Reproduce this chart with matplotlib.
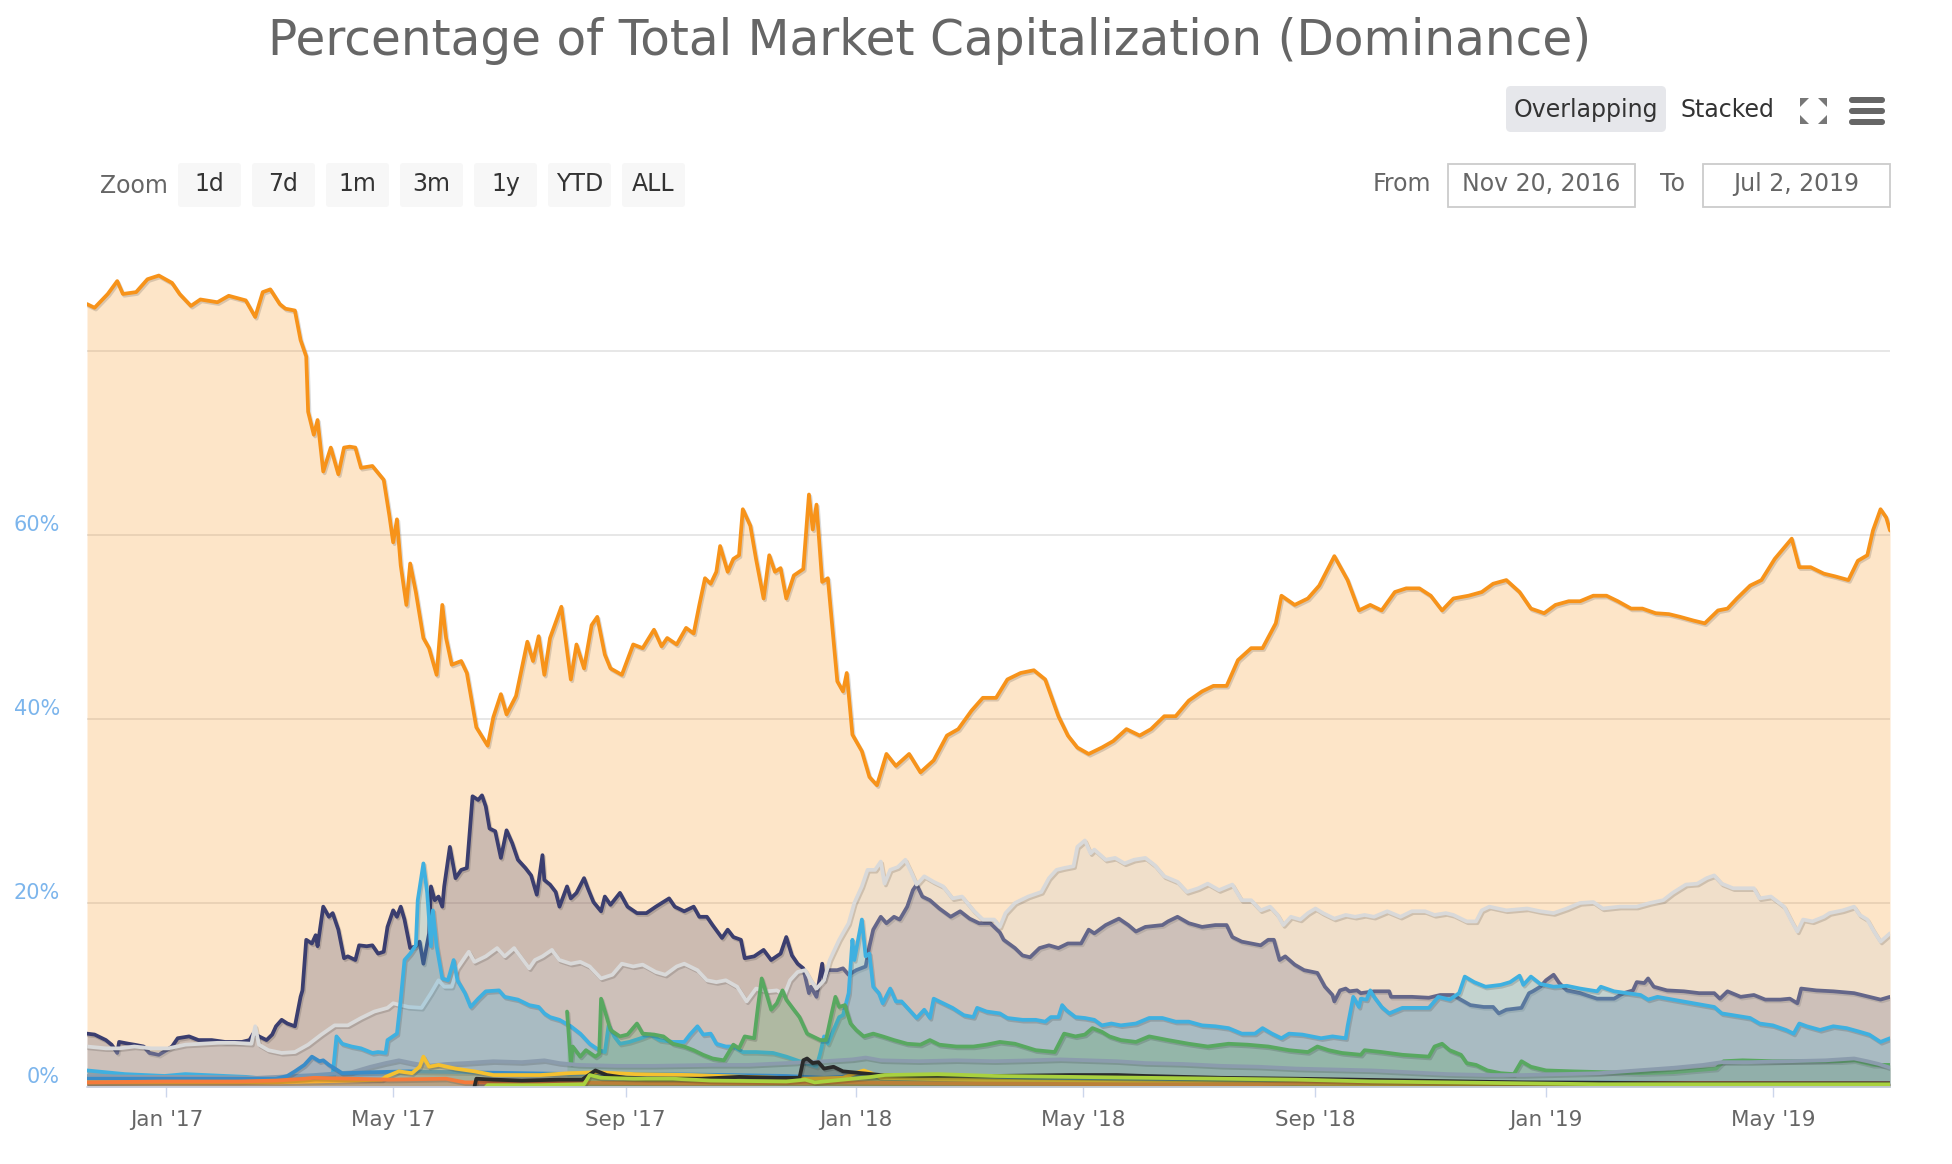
import numpy as np
import pandas as pd
import matplotlib
matplotlib.use('Agg')
import matplotlib.pyplot as plt
import matplotlib.dates as mdates
import matplotlib.patheffects as pe
import matplotlib.transforms as mtransforms
from matplotlib.patches import FancyBboxPatch, Rectangle, Polygon

START = '2016-11-20'
END = '2019-07-02'

title = "Percentage of Total Market Capitalization (Dominance)"
zoom_buttons = ['1d', '7d', '1m', '3m', '1y', 'YTD', 'ALL']
from_label = 'Nov 20, 2016'
to_label = 'Jul 2, 2019'
y_ticks = [0, 20, 40, 60, 80]
y_labels = ['0%', '20%', '40%', '60%', '']
x_tick_dates = ['2017-01-01', '2017-05-01', '2017-09-01', '2018-01-01',
                '2018-05-01', '2018-09-01', '2019-01-01', '2019-05-01']
x_tick_labels = ["Jan '17", "May '17", "Sep '17", "Jan '18",
                 "May '18", "Sep '18", "Jan '19", "May '19"]

# ---- series (day offset from START, dominance %) ----
btc_day = [0, 4, 11, 16, 19, 26, 32, 38, 45, 49, 55, 60, 69, 75, 84, 89, 93, 97, 102, 105, 110, 113, 116, 117,
           120, 122, 125, 129, 133, 136, 139, 142, 145, 151, 157, 160, 162, 164, 166, 169, 171, 174, 178, 181,
           185, 188, 190, 193, 198, 201, 206, 212, 215, 219, 222, 227, 233, 236, 239, 242, 245, 251, 256, 259,
           263, 267, 270, 274, 277, 283, 289, 294, 300, 304, 307, 312, 317, 321, 324, 327, 330, 333, 335, 339,
           342, 345, 347, 351, 354, 358, 361, 364, 367, 370, 374, 379, 382, 384, 386, 389, 392, 397, 400, 402,
           405, 410, 414, 418, 423, 428, 435, 441, 448, 455, 461, 468, 474, 481, 487, 494, 501, 507, 514, 519,
           524, 530, 537, 543, 550, 557, 563, 570, 576, 583, 590, 596, 603, 609, 616, 622, 629, 632, 639, 646,
           652, 660, 667, 673, 679, 685, 692, 698, 705, 711, 717, 723, 731, 738, 744, 751, 758, 764, 771, 777,
           784, 790, 797, 804, 810, 817, 823, 830, 837, 843, 850, 856, 863, 868, 873, 880, 886, 893, 902, 906,
           912, 919, 925, 932, 937, 942, 945, 949, 952, 954]
btc_pct = [85.1, 84.7, 86.2, 87.6, 86.2, 86.4, 87.8, 88.2, 87.4, 86.2, 84.9, 85.6, 85.3, 86.0, 85.5, 83.7, 86.4,
           86.7, 85.1, 84.6, 84.4, 81.2, 79.4, 73.4, 70.9, 72.5, 66.9, 69.5, 66.6, 69.5, 69.6, 69.5, 67.3, 67.5,
           66.0, 62.1, 59.2, 61.7, 56.7, 52.4, 56.9, 53.8, 48.8, 47.7, 44.8, 52.4, 48.8, 45.9, 46.3, 45.0, 39.1,
           37.1, 40.2, 42.7, 40.5, 42.5, 48.4, 46.3, 49.0, 44.8, 48.8, 52.2, 44.3, 48.1, 45.5, 50.2, 51.1, 47.0,
           45.5, 44.8, 48.1, 47.7, 49.7, 47.9, 48.8, 48.1, 49.9, 49.3, 52.4, 55.3, 54.7, 56.0, 58.8, 56.0, 57.4,
           57.8, 62.8, 61.0, 57.4, 53.1, 57.8, 56.0, 56.4, 53.1, 55.6, 56.3, 64.4, 60.6, 63.3, 54.9, 55.3, 44.1,
           43.0, 45.0, 38.3, 36.5, 33.7, 32.8, 36.2, 34.9, 36.2, 34.2, 35.5, 38.2, 38.9, 40.9, 42.3, 42.3, 44.3,
           45.0, 45.3, 44.3, 40.3, 38.2, 36.9, 36.2, 36.9, 37.6, 38.9, 38.2, 38.9, 40.3, 40.3, 42.0, 43.0, 43.6,
           43.6, 46.4, 47.7, 47.7, 50.4, 53.4, 52.4, 53.1, 54.5, 57.7, 55.1, 51.8, 52.4, 51.8, 53.8, 54.2, 54.2,
           53.4, 51.8, 53.1, 53.4, 53.8, 54.7, 55.1, 53.8, 52.0, 51.5, 52.4, 52.8, 52.8, 53.4, 53.4, 52.8, 52.0,
           52.0, 51.5, 51.4, 51.1, 50.7, 50.4, 51.8, 52.0, 53.1, 54.5, 55.1, 57.4, 59.6, 56.5, 56.5, 55.8, 55.5,
           55.1, 57.2, 57.8, 60.5, 62.8, 61.9, 60.5]

eth_day = [0, 4, 10, 13, 16, 17, 22, 25, 30, 33, 38, 42, 45, 48, 54, 59, 66, 73, 82, 86, 88, 91, 95, 98, 100,
           103, 106, 110, 113, 114, 116, 119, 121, 122, 125, 128, 130, 133, 136, 138, 142, 144, 148, 151, 154,
           157, 159, 162, 164, 166, 168, 171, 174, 176, 178, 181, 182, 184, 186, 188, 189, 192, 195, 198, 201,
           204, 207, 209, 211, 213, 216, 219, 222, 225, 228, 232, 235, 238, 241, 242, 245, 248, 250, 254, 256,
           259, 263, 265, 268, 272, 274, 277, 282, 286, 291, 296, 301, 308, 311, 316, 321, 324, 328, 331, 336,
           339, 342, 346, 348, 353, 358, 362, 367, 370, 373, 376, 379, 382, 383, 386, 389, 390, 392, 397, 400,
           403, 407, 412, 414, 416, 420, 423, 427, 430, 434, 437, 439, 442, 446, 451, 457, 462, 467, 472, 478,
           483, 485, 491, 495, 499, 504, 509, 514, 519, 526, 530, 533, 539, 546, 551, 555, 560, 569, 572, 577,
           583, 590, 597, 603, 606, 611, 616, 621, 625, 628, 631, 634, 639, 644, 651, 655, 659, 660, 663, 666,
           668, 672, 674, 681, 689, 690, 701, 710, 716, 723, 726, 732, 739, 744, 747, 751, 759, 763, 765, 769,
           772, 776, 779, 783, 790, 799, 808, 813, 818, 820, 824, 826, 829, 836, 845, 853, 861, 864, 868, 875,
           882, 888, 896, 901, 905, 907, 915, 924, 935, 943, 949, 954]
eth_pct = [5.8, 5.7, 5.1, 4.6, 3.7, 4.9, 4.7, 4.6, 4.4, 3.7, 3.5, 4.0, 4.4, 5.3, 5.5, 5.1, 5.1, 4.9, 4.9, 5.1,
           5.8, 5.5, 5.1, 5.7, 6.6, 7.3, 6.9, 6.6, 9.8, 10.5, 16.0, 15.6, 16.5, 15.3, 19.6, 18.5, 18.9, 17.1,
           14.0, 14.2, 13.8, 15.4, 15.3, 15.4, 14.5, 14.7, 17.4, 19.2, 18.5, 19.6, 18.2, 15.1, 15.3, 15.8, 13.4,
           16.7, 21.8, 20.3, 20.7, 19.6, 21.8, 26.1, 22.7, 23.6, 23.8, 31.6, 31.2, 31.7, 30.5, 28.1, 27.8, 24.9,
           27.9, 26.5, 24.7, 23.8, 23.0, 20.9, 25.2, 22.5, 22.0, 21.2, 19.6, 21.8, 20.5, 21.1, 22.7, 21.6, 20.1,
           19.1, 20.7, 19.8, 21.1, 19.6, 18.9, 18.9, 19.6, 20.5, 19.6, 19.1, 19.6, 18.5, 18.5, 17.6, 16.2, 17.1,
           16.3, 16.0, 14.0, 14.2, 14.9, 13.8, 14.5, 16.3, 14.3, 13.4, 12.9, 10.2, 10.9, 9.8, 13.4, 11.6, 12.7,
           12.7, 12.9, 12.2, 12.7, 13.1, 15.3, 17.1, 18.5, 17.8, 18.5, 18.2, 19.6, 21.4, 22.0, 20.7, 20.3, 19.4,
           18.5, 19.1, 18.3, 17.8, 17.8, 16.8, 16.0, 15.1, 14.3, 14.1, 15.1, 15.4, 15.1, 15.6, 15.6, 17.1, 16.7,
           17.6, 18.3, 17.6, 16.9, 17.4, 17.6, 18.0, 18.5, 17.8, 17.4, 17.6, 17.6, 16.3, 15.8, 15.6, 15.4, 16.0,
           16.0, 13.8, 14.2, 13.3, 12.7, 12.4, 10.9, 10.0, 9.3, 10.5, 10.7, 10.4, 10.5, 10.2, 10.4, 10.4, 9.8,
           9.8, 9.7, 10.0, 10.0, 9.6, 8.9, 8.7, 8.7, 8.0, 8.4, 8.6, 10.2, 10.4, 10.9, 11.6, 12.2, 11.3, 10.5,
           10.2, 9.6, 9.6, 10.2, 10.5, 11.4, 11.3, 11.8, 10.9, 10.5, 10.4, 10.2, 10.2, 9.6, 10.4, 9.8, 10.0, 9.5,
           9.5, 9.6, 9.1, 10.7, 10.5, 10.4, 10.2, 9.8, 9.5, 9.8]

oth_day = [0, 10, 17, 25, 34, 43, 52, 61, 69, 78, 87, 89, 91, 96, 103, 110, 117, 124, 131, 138, 145, 152, 159,
           162, 170, 177, 182, 186, 189, 193, 196, 202, 205, 211, 217, 221, 226, 230, 234, 237, 241, 246, 250,
           256, 261, 266, 272, 278, 283, 289, 294, 301, 306, 312, 316, 323, 328, 333, 338, 344, 349, 354, 360,
           365, 369, 372, 376, 380, 383, 386, 390, 393, 398, 403, 406, 410, 413, 417, 420, 422, 425, 429, 433,
           436, 439, 443, 448, 453, 458, 463, 469, 474, 480, 483, 486, 491, 498, 505, 509, 513, 517, 522, 524,
           528, 531, 533, 539, 544, 549, 554, 560, 565, 570, 577, 582, 588, 593, 599, 606, 611, 616, 621, 626,
           630, 633, 637, 642, 646, 650, 654, 660, 666, 671, 676, 681, 688, 695, 701, 708, 713, 719, 723, 730,
           735, 738, 742, 751, 762, 769, 776, 783, 790, 797, 802, 811, 820, 827, 834, 839, 846, 852, 857, 861,
           865, 871, 876, 882, 885, 891, 898, 902, 905, 908, 913, 919, 922, 929, 935, 938, 942, 945, 949, 954]
oth_pct = [4.4, 4.2, 4.2, 4.4, 4.2, 4.2, 4.6, 4.7, 4.8, 4.8, 4.7, 6.6, 4.6, 4.0, 3.7, 3.8, 4.6, 5.7, 6.7, 6.7,
           7.5, 8.2, 8.6, 9.1, 8.7, 8.6, 10.2, 11.6, 10.9, 10.9, 12.9, 14.7, 13.6, 14.2, 15.1, 14.2, 15.1, 14.0,
           12.9, 13.8, 14.2, 14.9, 13.8, 13.4, 13.6, 13.1, 11.8, 12.2, 13.4, 13.1, 13.3, 12.5, 12.2, 13.1, 13.4,
           12.7, 11.6, 11.4, 11.6, 10.9, 9.3, 10.7, 10.4, 10.5, 10.0, 11.6, 12.5, 12.7, 11.6, 10.7, 11.6, 13.8,
           16.0, 17.8, 20.0, 21.8, 23.6, 23.6, 24.5, 22.1, 23.6, 23.9, 24.7, 23.4, 22.0, 22.9, 22.3, 21.8, 20.5,
           20.7, 19.2, 18.2, 18.2, 17.4, 18.9, 20.0, 20.7, 21.2, 22.7, 23.6, 23.8, 24.0, 26.1, 26.8, 25.4, 25.8,
           24.7, 24.9, 24.3, 24.7, 24.9, 24.1, 22.9, 22.3, 21.2, 21.6, 22.1, 21.4, 22.0, 20.3, 20.3, 19.2, 19.6,
           18.7, 17.6, 18.5, 18.2, 18.9, 19.4, 18.9, 18.3, 18.7, 18.5, 18.7, 18.5, 19.1, 18.5, 19.1, 19.1, 18.7,
           18.9, 18.7, 18.0, 18.0, 19.2, 19.6, 19.2, 19.4, 19.1, 18.9, 19.4, 20.0, 20.1, 19.4, 19.6, 19.6, 20.0,
           20.3, 21.1, 22.0, 22.1, 22.7, 23.0, 22.1, 21.6, 21.6, 21.6, 20.5, 20.7, 19.6, 18.0, 16.9, 18.2, 18.0,
           18.5, 18.9, 19.2, 19.6, 18.7, 18.2, 17.1, 15.8, 16.7]

xrp_day = [0, 10, 20, 31, 41, 52, 62, 73, 84, 94, 105, 115, 125, 130, 132, 135, 140, 145, 151, 154, 158, 159,
           164, 166, 168, 171, 174, 175, 178, 180, 182, 183, 185, 188, 191, 194, 196, 200, 203, 207, 211, 218,
           221, 228, 234, 239, 242, 245, 250, 256, 261, 266, 271, 274, 276, 279, 282, 287, 293, 298, 303, 310,
           316, 319, 323, 326, 330, 333, 338, 342, 347, 354, 363, 370, 377, 383, 386, 388, 390, 392, 395, 398,
           400, 403, 405, 406, 408, 410, 412, 414, 416, 419, 421, 425, 428, 431, 435, 439, 443, 446, 448, 453,
           458, 464, 469, 471, 476, 483, 487, 495, 502, 507, 510, 514, 516, 518, 523, 528, 533, 537, 542, 547,
           555, 562, 569, 576, 583, 590, 597, 604, 611, 618, 622, 627, 632, 636, 643, 648, 653, 659, 666, 667,
           670, 673, 674, 677, 679, 681, 685, 689, 696, 703, 710, 715, 721, 726, 729, 734, 740, 748, 753, 758,
           760, 764, 769, 776, 783, 790, 799, 801, 808, 815, 822, 826, 831, 839, 850, 861, 865, 871, 880, 885,
           892, 899, 903, 906, 910, 917, 924, 931, 938, 943, 949, 954]
xrp_pct = [1.8, 1.6, 1.4, 1.3, 1.2, 1.4, 1.3, 1.2, 1.1, 0.9, 0.9, 1.0, 1.1, 1.3, 5.5, 4.7, 4.4, 4.2, 3.7, 3.8,
           3.7, 5.1, 5.8, 9.5, 13.8, 14.5, 15.4, 20.3, 24.3, 21.1, 15.3, 19.2, 15.3, 11.8, 11.6, 13.8, 11.6, 10.2,
           8.7, 9.6, 10.4, 10.5, 9.8, 9.5, 8.9, 8.7, 8.0, 7.6, 7.3, 6.6, 5.8, 4.7, 4.0, 3.8, 6.7, 5.5, 4.7, 4.9,
           5.3, 5.7, 5.1, 4.9, 4.9, 5.7, 6.6, 5.7, 5.8, 4.7, 4.4, 4.4, 3.8, 3.8, 3.7, 3.3, 2.8, 2.4, 2.2, 3.7,
           5.5, 4.7, 6.2, 7.6, 7.8, 10.2, 16.0, 13.8, 16.0, 18.2, 14.2, 14.5, 10.9, 10.2, 9.1, 10.7, 9.3, 9.3,
           8.4, 7.5, 8.4, 7.5, 9.6, 9.1, 8.6, 7.8, 7.6, 8.6, 8.2, 8.0, 7.5, 7.3, 7.3, 7.1, 7.6, 7.6, 8.9, 8.4,
           7.6, 7.5, 7.3, 6.7, 6.9, 6.7, 6.9, 7.5, 7.5, 7.1, 7.1, 6.7, 6.6, 6.4, 5.8, 5.8, 6.4, 5.8, 5.3, 5.8,
           5.7, 5.5, 5.3, 5.5, 5.3, 6.6, 9.8, 8.7, 9.6, 9.5, 10.5, 9.8, 8.7, 8.0, 8.6, 8.6, 8.6, 9.8, 9.5, 10.2,
           12.0, 11.4, 10.9, 11.1, 11.4, 12.1, 11.1, 12.0, 11.2, 10.9, 11.0, 10.7, 10.4, 10.9, 10.4, 10.2, 10.0,
           9.5, 9.8, 9.5, 9.1, 8.7, 8.0, 7.8, 7.5, 6.9, 6.7, 6.2, 5.8, 6.9, 6.6, 6.2, 6.6, 6.4, 6.0, 5.7, 4.9, 5.3]

bch_day = [254, 256, 257, 261, 264, 269, 271, 272, 275, 277, 282, 286, 291, 294, 300, 305, 310, 316, 321, 326,
           331, 337, 342, 345, 348, 353, 355, 357, 360, 362, 365, 368, 370, 374, 377, 381, 384, 388, 391, 394,
           396, 398, 401, 404, 407, 411, 416, 421, 427, 434, 441, 446, 451, 460, 469, 476, 483, 491, 502, 512,
           517, 523, 528, 532, 537, 541, 547, 555, 562, 572, 583, 593, 604, 614, 625, 636, 646, 651, 657, 664,
           674, 676, 685, 696, 710, 713, 717, 721, 727, 730, 735, 741, 748, 755, 759, 764, 772, 786, 804, 822,
           839, 850, 862, 866, 876, 892, 910, 928, 935, 945, 954]
bch_pct = [8.2, 2.6, 4.4, 3.3, 4.0, 3.3, 3.6, 9.6, 7.6, 6.2, 5.5, 5.7, 6.9, 5.8, 5.7, 5.5, 4.7, 4.4, 4.0, 3.5,
           3.1, 2.9, 4.6, 4.2, 5.5, 5.3, 8.7, 11.8, 9.8, 8.4, 9.1, 10.5, 9.5, 8.4, 7.6, 5.8, 5.5, 5.1, 5.1, 8.0,
           9.8, 8.7, 8.9, 6.9, 6.2, 5.5, 5.8, 5.5, 5.1, 4.7, 4.6, 5.1, 4.6, 4.4, 4.4, 4.6, 4.9, 4.7, 4.0, 3.8,
           5.8, 5.5, 5.7, 6.4, 6.0, 5.5, 5.1, 4.9, 5.5, 5.1, 4.7, 4.4, 4.7, 4.6, 4.4, 4.0, 3.8, 4.4, 4.0, 3.7,
           3.5, 4.0, 3.8, 3.5, 3.3, 4.4, 4.7, 4.0, 3.5, 2.6, 2.4, 1.8, 1.5, 1.4, 2.8, 2.2, 1.8, 1.7, 1.6, 1.5,
           1.6, 1.8, 2.0, 2.8, 2.9, 2.8, 2.8, 2.8, 2.9, 2.4, 2.4]

ltc_day = [0, 30, 60, 90, 120, 140, 150, 158, 165, 172, 180, 190, 200, 215, 230, 242, 250, 260, 280, 300, 330,
           350, 370, 390, 405, 412, 420, 440, 460, 480, 500, 515, 530, 545, 560, 580, 600, 620, 640, 660, 680,
           700, 720, 740, 760, 780, 800, 820, 840, 855, 865, 880, 900, 920, 935, 942, 948, 954]
ltc_pct = [1.2, 1.1, 1.1, 1.0, 1.3, 1.6, 2.2, 2.6, 2.9, 2.6, 2.3, 2.5, 2.6, 2.8, 2.7, 2.9, 2.6, 2.4, 2.3, 2.3,
           2.4, 2.4, 2.6, 2.8, 3.0, 3.2, 2.9, 2.8, 2.9, 2.8, 2.9, 3.0, 2.9, 2.8, 2.6, 2.5, 2.3, 2.2, 2.0, 1.9,
           1.8, 1.6, 1.4, 1.3, 1.3, 1.4, 1.5, 1.8, 2.1, 2.4, 2.7, 2.7, 2.8, 2.9, 3.1, 2.8, 2.5, 2.1]

dash_day = [0, 50, 100, 106, 110, 115, 119, 123, 125, 128, 132, 135, 150, 170, 200, 230, 260, 300, 340, 370,
            390, 410, 430, 470, 550, 650, 750, 954]
dash_pct = [0.9, 0.9, 0.9, 1.2, 1.7, 2.4, 3.3, 2.8, 2.9, 2.4, 1.9, 1.5, 1.6, 1.7, 1.6, 1.5, 1.4, 1.4, 1.3, 1.2,
            1.0, 1.2, 0.9, 0.8, 0.7, 0.6, 0.5, 0.4]

yel_day = [0, 60, 100, 140, 156, 158, 165, 172, 176, 178, 181, 186, 195, 205, 215, 240, 255, 270, 290, 320,
           350, 380, 400, 408, 411, 415, 420, 460, 500, 600, 700, 954]
yel_pct = [0.5, 0.5, 0.5, 0.7, 0.8, 1.1, 1.7, 1.5, 2.2, 3.3, 2.2, 2.4, 2.0, 1.7, 1.3, 1.3, 1.5, 1.6, 1.4, 1.3,
           1.1, 0.9, 1.0, 1.6, 1.8, 1.5, 1.0, 0.8, 0.6, 0.4, 0.3, 0.2]

red_day = [0, 40, 80, 100, 115, 120, 140, 160, 190, 200, 250, 300, 350, 400, 450, 550, 620, 650, 954]
red_pct = [0.5, 0.6, 0.6, 0.7, 0.9, 1.0, 0.9, 0.8, 0.9, 0.5, 0.5, 0.4, 0.4, 0.5, 0.4, 0.3, 0.3, 0.5, 0.4]

eos_day = [205, 206, 215, 230, 250, 262, 269, 275, 285, 296, 325, 345, 365, 377, 379, 381, 384, 387, 390, 395,
           400, 410, 420, 440, 480, 520, 545, 560, 600, 640, 700, 760, 850, 954]
eos_pct = [0.0, 0.9, 0.8, 0.7, 0.8, 0.8, 1.8, 1.3, 1.0, 0.9, 0.9, 1.1, 1.0, 1.0, 2.9, 3.1, 2.6, 2.7, 2.0, 2.2,
           1.7, 1.5, 1.3, 1.2, 1.2, 1.3, 1.3, 1.2, 1.0, 0.9, 0.7, 0.5, 0.4, 0.4]

lime_day = [211, 212, 240, 263, 266, 272, 290, 310, 330, 370, 380, 385, 400, 415, 422, 450, 480, 520, 560, 600,
            640, 680, 720, 800, 954]
lime_pct = [0.0, 0.2, 0.2, 0.3, 1.3, 1.0, 0.9, 0.9, 0.7, 0.6, 0.8, 0.5, 0.8, 1.1, 1.3, 1.4, 1.2, 1.1, 1.0, 0.9,
            0.8, 0.6, 0.5, 0.3, 0.3]

# ---- figure ----
W, H = 1952, 1164
fig = plt.figure(figsize=(W / 100, H / 100), dpi=100)
fig.patch.set_facecolor('white')
plt.rcParams['font.family'] = ['DejaVu Sans']


def fx(x):
    return x / W


def fy(y):
    return 1 - y / H


PX = mtransforms.IdentityTransform()

ax = fig.add_axes([fx(87), fy(1087), (1890 - 87) / W, (1087 - 259) / H])
ax.set_facecolor('white')

start = pd.Timestamp(START)


def to_dates(days):
    return start + pd.to_timedelta(np.asarray(days, dtype=float), unit='D')


shadow = [pe.SimpleLineShadow(offset=(1.0, -1.3), shadow_color='k', alpha=0.14), pe.Normal()]


def draw(days, vals, color, z, alpha=0.25, lw=2.7, fill_color=None):
    d = to_dates(days)
    ax.fill_between(d, 0, vals, color=fill_color or color, alpha=alpha, lw=0, zorder=z)
    ax.plot(d, vals, color=color, lw=lw, zorder=z, solid_joinstyle='round',
            solid_capstyle='round', path_effects=shadow)


draw(btc_day, btc_pct, '#f7931a', 2, alpha=0.24)
draw(eth_day, eth_pct, '#3b3e6f', 3)
draw(oth_day, oth_pct, '#d9d9d9', 4, alpha=0.28, fill_color='#d0d0d0')
draw(xrp_day, xrp_pct, '#3fb0e0', 5)
draw(bch_day, bch_pct, '#58a860', 6)
draw(ltc_day, ltc_pct, '#8b9cad', 7)
draw(dash_day, dash_pct, '#3a8cc8', 8)
draw(yel_day, yel_pct, '#f5c030', 9)
draw(red_day, red_pct, '#f47b3c', 10)
draw(eos_day, eos_pct, '#2a2a2a', 11)
draw(lime_day, lime_pct, '#a9d13f', 12)

ax.set_xlim(pd.Timestamp(START), pd.Timestamp(END))
ax.set_ylim(0, 90)

# grid
ax.set_yticks(y_ticks)
ax.yaxis.grid(True, color='#e3e3e3', lw=1.2, zorder=1)
ax.set_axisbelow(True)
ax.tick_params(axis='y', length=0, labelleft=False)
lab_tr = mtransforms.offset_copy(ax.get_yaxis_transform(), fig=fig, x=0, y=10, units='dots')
for v, s in zip(y_ticks, y_labels):
    if s:
        ax.text(-0.015, v, s, transform=lab_tr, ha='right', va='center',
                fontsize=15, color='#7cb5ec')

# x axis
ax.set_xticks(pd.to_datetime(x_tick_dates))
ax.set_xticklabels(x_tick_labels)
ax.tick_params(axis='x', direction='out', length=7.5, width=1, color='#ccd6eb',
               labelcolor='#666666', labelsize=15.5, pad=9)
for s in ['top', 'right', 'left']:
    ax.spines[s].set_visible(False)
ax.spines['bottom'].set_color('#ccd6eb')
ax.spines['bottom'].set_linewidth(1.2)
ax.spines['bottom'].set_zorder(20)

# ---- title & toolbar ----
fig.text(fx(930), fy(41), title, ha='center', va='center', fontsize=35, color='#666666')

# Overlapping / Stacked
fig.add_artist(FancyBboxPatch((1506, H - 132), 160, 46, boxstyle='round,pad=0,rounding_size=5',
                              transform=PX, facecolor='#e6e7eb', edgecolor='none'))
fig.text(fx(1586), fy(110), 'Overlapping', ha='center', va='center', fontsize=17, color='#333333')
fig.text(fx(1727), fy(110), 'Stacked', ha='center', va='center', fontsize=17, color='#333333')

# fullscreen icon
icol = '#777777'
cx0, cy0, cx1, cy1 = 1800, 98, 1827, 124
s = 9
for (px, py, dx, dy) in [(cx0, cy0, 1, 1), (cx1, cy0, -1, 1), (cx0, cy1, 1, -1), (cx1, cy1, -1, -1)]:
    tri = Polygon([(px, H - py), (px + dx * s, H - py), (px, H - (py + dy * s))], closed=True,
                  transform=PX, facecolor=icol, edgecolor='none')
    fig.add_artist(tri)
# hamburger
for yy in (100, 111, 122):
    fig.add_artist(FancyBboxPatch((1849, H - yy - 3), 36, 6, boxstyle='round,pad=0,rounding_size=3',
                                  transform=PX, facecolor='#666666', edgecolor='none'))

# Zoom row
fig.text(fx(134), fy(186), 'Zoom', ha='center', va='center', fontsize=17, color='#666666')
btn_left = [178, 252, 326, 400, 474, 548, 622]
for lx, lab in zip(btn_left, zoom_buttons):
    fig.add_artist(FancyBboxPatch((lx, H - 207), 63, 44, boxstyle='round,pad=0,rounding_size=3',
                                  transform=PX, facecolor='#f7f7f7', edgecolor='none'))
    fig.text(fx(lx + 31.5), fy(184), lab, ha='center', va='center', fontsize=17, color='#333333')

# From / To
fig.text(fx(1402), fy(184), 'From', ha='center', va='center', fontsize=17, color='#666666')
fig.add_artist(Rectangle((1448, H - 207), 187, 43, transform=PX, facecolor='white',
                         edgecolor='#cccccc', lw=1.3))
fig.text(fx(1541), fy(184), from_label, ha='center', va='center', fontsize=17, color='#666666')
fig.text(fx(1673), fy(184), 'To', ha='center', va='center', fontsize=17, color='#666666')
fig.add_artist(Rectangle((1703, H - 207), 187, 43, transform=PX, facecolor='white',
                         edgecolor='#cccccc', lw=1.3))
fig.text(fx(1796), fy(184), to_label, ha='center', va='center', fontsize=17, color='#666666')

fig.savefig('out.png', dpi=100, facecolor='white')
